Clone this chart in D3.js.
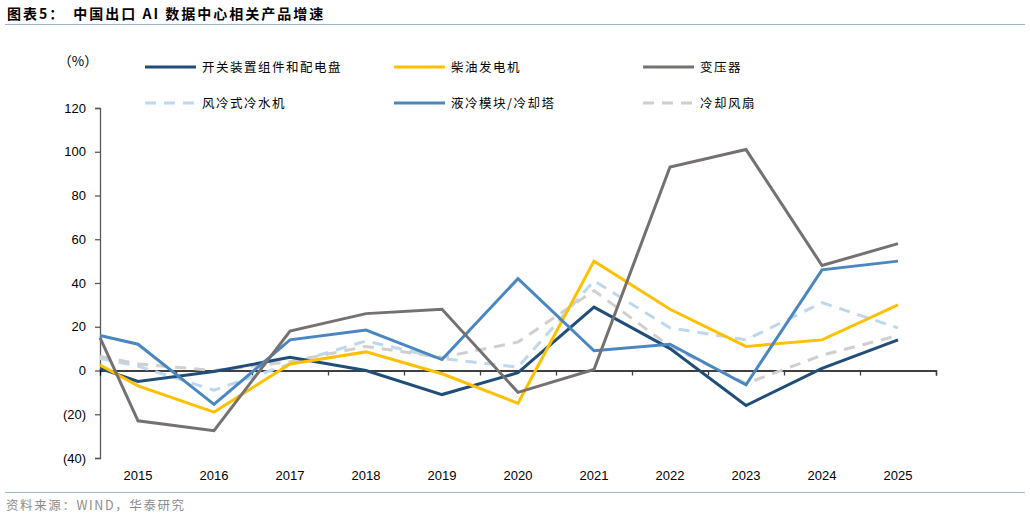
<!DOCTYPE html>
<html>
<head>
<meta charset="utf-8">
<script src="https://cdn.jsdelivr.net/npm/d3@7"></script>
<style>
    body { margin: 0; background: #fff; }
    svg { display: block; }
    .num { font-family: "Liberation Sans", Arial, sans-serif; font-size: 13px; fill: #000; }
    .cn { font-family: "Noto Sans CJK SC", sans-serif; }
</style>
</head>
<body>
<script>
// x positions: first point sits on the value axis (half a year before 2015)
const xPoints = [2014.5, 2015, 2016, 2017, 2018, 2019, 2020, 2021, 2022, 2023, 2024, 2025]
const yearLabels = ["2015", "2016", "2017", "2018", "2019", "2020", "2021", "2022", "2023", "2024", "2025"]
const yTicks = [-40, -20, 0, 20, 40, 60, 80, 100, 120]

const switchgear = [1, -5, -0.5, 6, 0, -11, -1, 29, 10, -16, 1, 14]
const dieselGen = [2.5, -7, -19, 3, 8.5, -1.5, -15, 50, 28, 11, 14, 30]
const transformer = [15, -23, -27.5, 18, 26, 28, -10, 0.5, 93, 101, 48, 58]
const airChiller = [5.5, 2, -9, 3, 13.5, 5.5, 1.5, 41, 19.5, 14, 31, 19.5]
const liquidCooling = [16, 12, -15.5, 14, 18.5, 5, 42, 9, 12, -6.5, 46, 50]
const coolingFan = [6.5, 3, 0, 4, 11, 6, 13, 36.5, 11, -6, 7, 16]

const seriesNames = ["开关装置组件和配电盘", "柴油发电机", "变压器", "风冷式冷水机", "液冷模块/冷却塔", "冷却风扇"]

const series = [
    { name: seriesNames[0], values: switchgear, color: "#1f4e79", dash: null },
    { name: seriesNames[1], values: dieselGen, color: "#ffc000", dash: null },
    { name: seriesNames[2], values: transformer, color: "#767171", dash: null },
    { name: seriesNames[3], values: airChiller, color: "#bdd7ee", dash: "11,8" },
    { name: seriesNames[4], values: liquidCooling, color: "#4a86bf", dash: null },
    { name: seriesNames[5], values: coolingFan, color: "#d0cece", dash: "11,8" }
]

const width = 1030, height = 517
const svg = d3.select("body").append("svg")
    .attr("width", width)
    .attr("height", height)

const x = d3.scaleLinear().domain([2014.5, 2025.5]).range([100, 936])
const y = d3.scaleLinear().domain([-40, 120]).range([458, 108])

// title + rule
const title = svg.append("text")
    .attr("class", "cn")
    .attr("x", 7).attr("y", 19)
    .attr("font-size", 14).attr("font-weight", "bold").attr("fill", "#000")
    .attr("letter-spacing", 2)
title.append("tspan").text("图表5：")
title.append("tspan").attr("dx", 8).text("中国出口 AI 数据中心相关产品增速")
svg.append("line")
    .attr("x1", 5).attr("x2", 1025).attr("y1", 24.5).attr("y2", 24.5)
    .attr("stroke", "#9fb4cc").attr("stroke-width", 1.2)

// unit
svg.append("text")
    .attr("class", "cn")
    .attr("x", 78).attr("y", 66)
    .attr("text-anchor", "middle")
    .attr("font-size", 13.5).attr("fill", "#000")
    .text("（%）")

// y axis
const yAxis = d3.axisLeft(y)
    .tickValues(yTicks)
    .tickSize(5)
    .tickFormat(d => d < 0 ? `(${-d})` : d)
const gy = svg.append("g")
    .attr("transform", "translate(100,0)")
    .call(yAxis)
gy.select(".domain").attr("stroke", "#595959").attr("stroke-width", 1.3)
gy.selectAll(".tick line").attr("stroke", "#595959").attr("stroke-width", 1.3)
gy.selectAll(".tick text")
    .attr("class", "num")
    .attr("x", -14)
    .style("font-family", "'Liberation Sans', Arial, sans-serif")
    .style("font-size", "13px")
    .attr("fill", "#000")

// x axis on zero line, ticks at year boundaries, labels at bottom
const boundaries = d3.range(2015.5, 2025.6, 1)
const xAxis = d3.axisBottom(x)
    .tickValues(boundaries)
    .tickSize(5)
    .tickFormat("")
const gx = svg.append("g")
    .attr("transform", `translate(0,${y(0)})`)
    .call(xAxis)
gx.select(".domain").attr("stroke", "#000").attr("stroke-width", 1.3)
gx.selectAll(".tick line").attr("stroke", "#404040").attr("stroke-width", 1.3)

svg.append("g")
    .selectAll("text")
    .data(yearLabels)
    .enter()
    .append("text")
    .attr("class", "num")
    .attr("x", d => x(+d))
    .attr("y", 480)
    .attr("text-anchor", "middle")
    .text(d => d)

// lines
const line = d3.line()
    .x((d, i) => x(xPoints[i]))
    .y(d => y(d))

const drawOrder = [3, 5, 0, 1, 4, 2]
svg.append("g")
    .selectAll("path")
    .data(drawOrder.map(i => series[i]))
    .enter()
    .append("path")
    .attr("d", d => line(d.values))
    .attr("fill", "none")
    .attr("stroke", d => d.color)
    .attr("stroke-width", 3)
    .attr("stroke-linejoin", "miter")
    .attr("stroke-dasharray", d => d.dash)

// legend
const legendCols = [145, 394, 643]
const legendRows = [67, 103]
const legend = svg.append("g")
    .selectAll("g")
    .data(series)
    .enter()
    .append("g")
    .attr("transform", (d, i) => `translate(${legendCols[i % 3]},${legendRows[Math.floor(i / 3)]})`)

legend.append("line")
    .attr("x1", 0).attr("x2", 51)
    .attr("stroke", d => d.color)
    .attr("stroke-width", 3)
    .attr("stroke-dasharray", d => d.dash)
legend.append("text")
    .attr("class", "cn")
    .attr("x", 57)
    .attr("y", 4.5)
    .attr("font-size", 12.5)
    .attr("letter-spacing", 1.5)
    .attr("fill", "#000")
    .text(d => d.name)

// footer
svg.append("line")
    .attr("x1", 5).attr("x2", 1025).attr("y1", 492.5).attr("y2", 492.5)
    .attr("stroke", "#9fb4cc").attr("stroke-width", 1.2)
svg.append("text")
    .attr("class", "cn")
    .attr("x", 6).attr("y", 510)
    .attr("font-size", 12.5)
    .attr("letter-spacing", 1.6)
    .attr("fill", "#8c8c8c")
    .text("资料来源：WIND，华泰研究")
</script>
</body>
</html>
